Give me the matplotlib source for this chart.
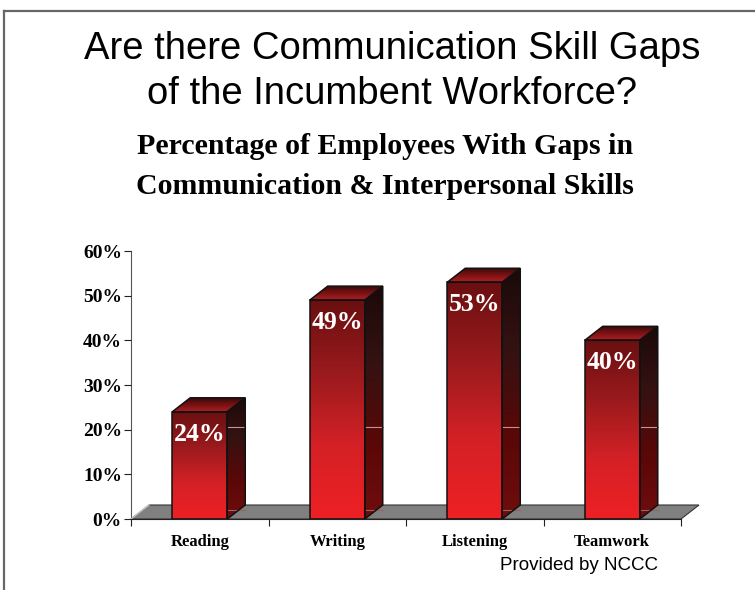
import numpy as np
import matplotlib
matplotlib.use("Agg")
import matplotlib.pyplot as plt
from matplotlib.patches import Polygon
from matplotlib.colors import LinearSegmentedColormap
from matplotlib.lines import Line2D

categories = ["Reading", "Writing", "Listening", "Teamwork"]
values = [24, 49, 53, 40]
yticks = [0, 10, 20, 30, 40, 50, 60]
ytick_labels = ["0%", "10%", "20%", "30%", "40%", "50%", "60%"]

W, H = 755, 590
fig = plt.figure(figsize=(W / 100, H / 100), dpi=100)

# axes in pixel geometry
ax_l, ax_r, ax_b, ax_t = 131, 681, 519, 251
ax = fig.add_axes([ax_l / W, 1 - ax_b / H, (ax_r - ax_l) / W, (ax_b - ax_t) / H])
ax.set_xlim(0, len(categories))
ax.set_ylim(0, 60)

# depth offsets in data units
dx = 18 * len(categories) / (ax_r - ax_l)
dy = 14 * 60 / (ax_b - ax_t)
bw = 0.4

# floor
floor = Polygon([(0, 0), (len(categories), 0), (len(categories) + dx, dy), (dx, dy)],
                closed=True, facecolor="#808080", edgecolor="#333333", lw=0.8,
                clip_on=False, zorder=1)
ax.add_patch(floor)
ax.add_line(Line2D([0, dx], [0, dy], color="#c8c8c8", lw=1.0, zorder=1.5, clip_on=False))

front_cmap = LinearSegmentedColormap.from_list("front", ["#ee2024", "#d42126", "#9a1a1d", "#6a0f10"])
side_cmap = LinearSegmentedColormap.from_list("side", ["#700d0e", "#5a0707", "#351212", "#1c0909"])
top_cmap = LinearSegmentedColormap.from_list("top", ["#b01e22", "#7a1214", "#3a0a0a"])

grad = np.linspace(0, 1, 256).reshape(-1, 1)

for i, v in enumerate(values):
    x0 = i + 0.5 - bw / 2
    x1 = x0 + bw
    # front face
    front = Polygon([(x0, 0), (x1, 0), (x1, v), (x0, v)], closed=True,
                    facecolor="none", edgecolor="none")
    ax.add_patch(front)
    im = ax.imshow(grad, cmap=front_cmap, origin="lower", aspect="auto",
                   extent=[x0, x1, 0, v], zorder=3)
    im.set_clip_path(front)
    # side face
    side = Polygon([(x1, 0), (x1 + dx, dy), (x1 + dx, v + dy), (x1, v)], closed=True,
                   facecolor="none", edgecolor="none")
    ax.add_patch(side)
    im2 = ax.imshow(grad, cmap=side_cmap, origin="lower", aspect="auto",
                    extent=[x1, x1 + dx, 0, v + dy], zorder=3)
    im2.set_clip_path(side)
    # gridline traces on side face
    ax.add_line(Line2D([x1, x1 + dx], [20.5, 20.5], color="#c89090", lw=0.8, zorder=3.5))
    ax.add_line(Line2D([x1, x1 + dx], [2.0, 2.0], color="#a06060", lw=0.8, zorder=3.5))
    # top face
    top = Polygon([(x0, v), (x1, v), (x1 + dx, v + dy), (x0 + dx, v + dy)], closed=True,
                  facecolor="none", edgecolor="none")
    ax.add_patch(top)
    im3 = ax.imshow(grad, cmap=top_cmap, origin="lower", aspect="auto",
                    extent=[x0, x1 + dx, v, v + dy], zorder=3)
    im3.set_clip_path(top)
    # outlines
    for poly in ([(x0, 0), (x1, 0), (x1, v), (x0, v)],
                 [(x1, 0), (x1 + dx, dy), (x1 + dx, v + dy), (x1, v)],
                 [(x0, v), (x1, v), (x1 + dx, v + dy), (x0 + dx, v + dy)]):
        ax.add_patch(Polygon(poly, closed=True, facecolor="none", edgecolor="#111111",
                             lw=1.1, zorder=4, joinstyle="miter"))
    # value label
    ax.text(i + 0.5, v - 2.4, f"{v}%", ha="center", va="top", color="white",
            fontsize=18.5, fontweight="bold", family="Liberation Serif", zorder=5)

ax.set_xticks(range(len(categories) + 1))
ax.set_xticklabels([])
ax.set_xticks([i + 0.5 for i in range(len(categories))], minor=True)
ax.set_xticklabels(categories, minor=True, fontsize=12, fontweight="bold",
                   family="Liberation Serif")
ax.tick_params(axis="x", which="minor", length=0, pad=11)
ax.tick_params(axis="x", which="major", length=5, color="#222222", direction="out")
ax.set_yticks(yticks)
ax.set_yticklabels(ytick_labels, fontsize=14, fontweight="bold", family="Liberation Serif")
ax.tick_params(axis="y", length=5, color="#222222", direction="out", pad=1.5)
for s in ["top", "right"]:
    ax.spines[s].set_visible(False)
ax.spines["left"].set_color("#555555")
ax.spines["bottom"].set_color("#222222")
ax.spines["left"].set_zorder(0.5)
ax.patch.set_visible(False)

# titles
fig.text(392 / W, 1 - 49 / H, "Are there Communication Skill Gaps", ha="center", va="center",
         fontsize=27.5, family="Liberation Sans")
fig.text(392 / W, 1 - 94 / H, "of the Incumbent Workforce?", ha="center", va="center",
         fontsize=27.5, family="Liberation Sans")
fig.text(385 / W, 1 - 147 / H, "Percentage of Employees With Gaps in", ha="center", va="center",
         fontsize=21.5, fontweight="bold", family="Liberation Serif")
fig.text(385 / W, 1 - 187 / H, "Communication & Interpersonal Skills", ha="center", va="center",
         fontsize=21.5, fontweight="bold", family="Liberation Serif")
fig.text(579 / W, 1 - 566 / H, "Provided by NCCC", ha="center", va="center",
         fontsize=13.5, family="Liberation Sans")

# slide border
fig.add_artist(Line2D([4 / W, 1], [1 - 10.5 / H, 1 - 10.5 / H], color="#666666", lw=1.6,
                      transform=fig.transFigure))
fig.add_artist(Line2D([4 / W, 4 / W], [1 - 10.5 / H, 0], color="#666666", lw=1.6,
                      transform=fig.transFigure))

fig.savefig("out.png", dpi=100)
